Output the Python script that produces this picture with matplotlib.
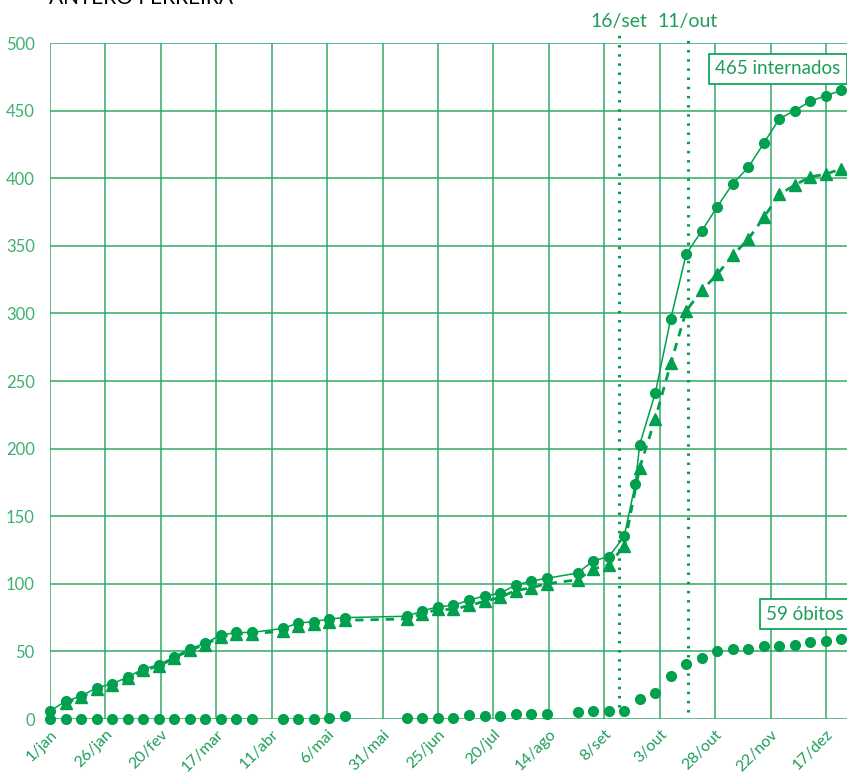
import matplotlib
matplotlib.use("Agg")
import matplotlib.pyplot as plt

# ---- data (days since 1 Jan) ----
int_days = [0, 7, 14, 21, 28, 35, 42, 49, 56, 63, 70, 77, 84, 91,
            105, 112, 119, 126, 133,
            161, 168, 175, 182, 189, 196, 203, 210, 217, 224,
            238, 245, 252, 259, 264,
            266, 273, 280, 287, 294, 301, 308, 315, 322, 329, 336, 343, 350, 357]
int_vals = [6, 13, 17, 23, 26, 31, 37, 40, 46, 52, 56, 62, 64, 64,
            67, 71, 72, 74, 75,
            76, 80, 83, 84, 88, 91, 93, 99, 102, 104,
            108, 117, 120, 135, 174,
            203, 241, 296, 344, 361, 379, 396, 408, 426, 444, 450, 457, 461, 465]

tri_days = [7, 14, 21, 28, 35, 42, 49, 56, 63, 70, 77, 84, 91,
            105, 112, 119, 126, 133,
            161, 168, 175, 182, 189, 196, 203, 210, 217, 224,
            238, 245, 252, 259, 266, 273, 280, 287, 294, 301, 308, 315, 322, 329, 336, 343, 350, 357]
tri_vals = [12, 16, 22, 25, 30, 36, 39, 45, 51, 55, 61, 63, 63,
            65, 69, 70, 72, 73,
            74, 78, 81, 81, 84, 87, 90, 95, 97, 100,
            103, 111, 114, 128, 186, 222, 263, 302, 317, 329, 343, 355, 371, 388, 395, 401, 403, 407]

obi_days = [0, 7, 14, 21, 28, 35, 42, 49, 56, 63, 70, 77, 84, 91,
            105, 112, 119, 126, 133,
            161, 168, 175, 182, 189, 196, 203, 210, 217, 224,
            238, 245, 252, 259, 266, 273, 280, 287, 294, 301, 308, 315, 322, 329, 336, 343, 350, 357]
obi_vals = [0, 0, 0, 0, 0, 0, 0, 0, 0, 0, 0, 0, 0, 0,
            0, 0, 0, 1, 2,
            1, 1, 1, 1, 3, 2, 2, 4, 4, 4,
            5, 6, 6, 6, 15, 19, 32, 41, 45, 50, 52, 52, 54, 54, 55, 57, 58, 59]

tick_days = [0, 25, 50, 75, 100, 125, 150, 175, 200, 225, 250, 275, 300, 325, 350]
tick_labels = ["1/jan", "26/jan", "20/fev", "17/mar", "11/abr", "6/mai", "31/mai",
               "25/jun", "20/jul", "14/ago", "8/set", "3/out", "28/out", "22/nov", "17/dez"]

event_days = [256.5, 287.7]
event_labels = ["16/set", "11/out"]

GREEN = "#00a04e"
GRID = "#33aa68"
TXT = "#1e9e58"
TICK = "#3db06f"

plt.rcParams["font.family"] = ["Lato", "DejaVu Sans"]

fig = plt.figure(figsize=(8.47, 7.76), dpi=100)
ax = fig.add_axes([50 / 847, 57 / 776, 797 / 847, 676 / 776])
ax.set_xlim(0, 359.5)
ax.set_ylim(0, 500)

for s in ax.spines.values():
    s.set_visible(False)

ax.set_xticks(tick_days)
ax.set_xticklabels(tick_labels, rotation=45, ha="right", va="top",
                   rotation_mode="anchor", color=TXT, fontsize=11.5)
ax.set_yticks(range(0, 501, 50))
ax.set_yticklabels([str(v) for v in range(0, 501, 50)], color=TICK, fontsize=12)
ax.tick_params(axis="both", length=0)
ax.tick_params(axis="y", pad=11)
ax.tick_params(axis="x", pad=6)
ax.grid(True, color=GRID, linewidth=1.1)
ax.set_axisbelow(True)

# series
ax.plot(tri_days, tri_vals, linestyle=(0, (3, 2.5)), linewidth=2.0, color=GREEN,
        marker="^", markersize=8, zorder=3, clip_on=False)
ax.plot(int_days, int_vals, linestyle="-", linewidth=1.1, color=GREEN,
        marker="o", markersize=7, zorder=4, clip_on=False)
ax.plot(obi_days, obi_vals, linestyle="none", color=GREEN,
        marker="o", markersize=7, zorder=4, clip_on=False)

# event lines
for d, lab, y0 in zip(event_days, event_labels, [9, 5]):
    ax.plot([d, d], [y0, 507], linestyle=(0, (0.8, 2.2)), linewidth=2.2,
            color=GREEN, clip_on=False, zorder=2)
    ax.text(d, 512, lab, ha="center", va="baseline", color=TXT, fontsize=14,
            clip_on=False)

# boxed labels
ax.text(300, 481, "465 internados", ha="left", va="center", color=TXT, fontsize=13.5,
        bbox=dict(boxstyle="square,pad=0.35", fc="white", ec=GREEN, lw=1.2), zorder=6,
        clip_on=False)
ax.text(323, 77.5, "59 óbitos", ha="left", va="center", color=TXT, fontsize=13.5,
        bbox=dict(boxstyle="square,pad=0.35", fc="white", ec=GREEN, lw=1.2), zorder=6,
        clip_on=False)

fig.text(49 / 847, 1 - 3.5 / 776, "ANTERO FERREIRA", ha="left", va="baseline",
         color="black", fontsize=15)

fig.savefig("out.png", dpi=100)
